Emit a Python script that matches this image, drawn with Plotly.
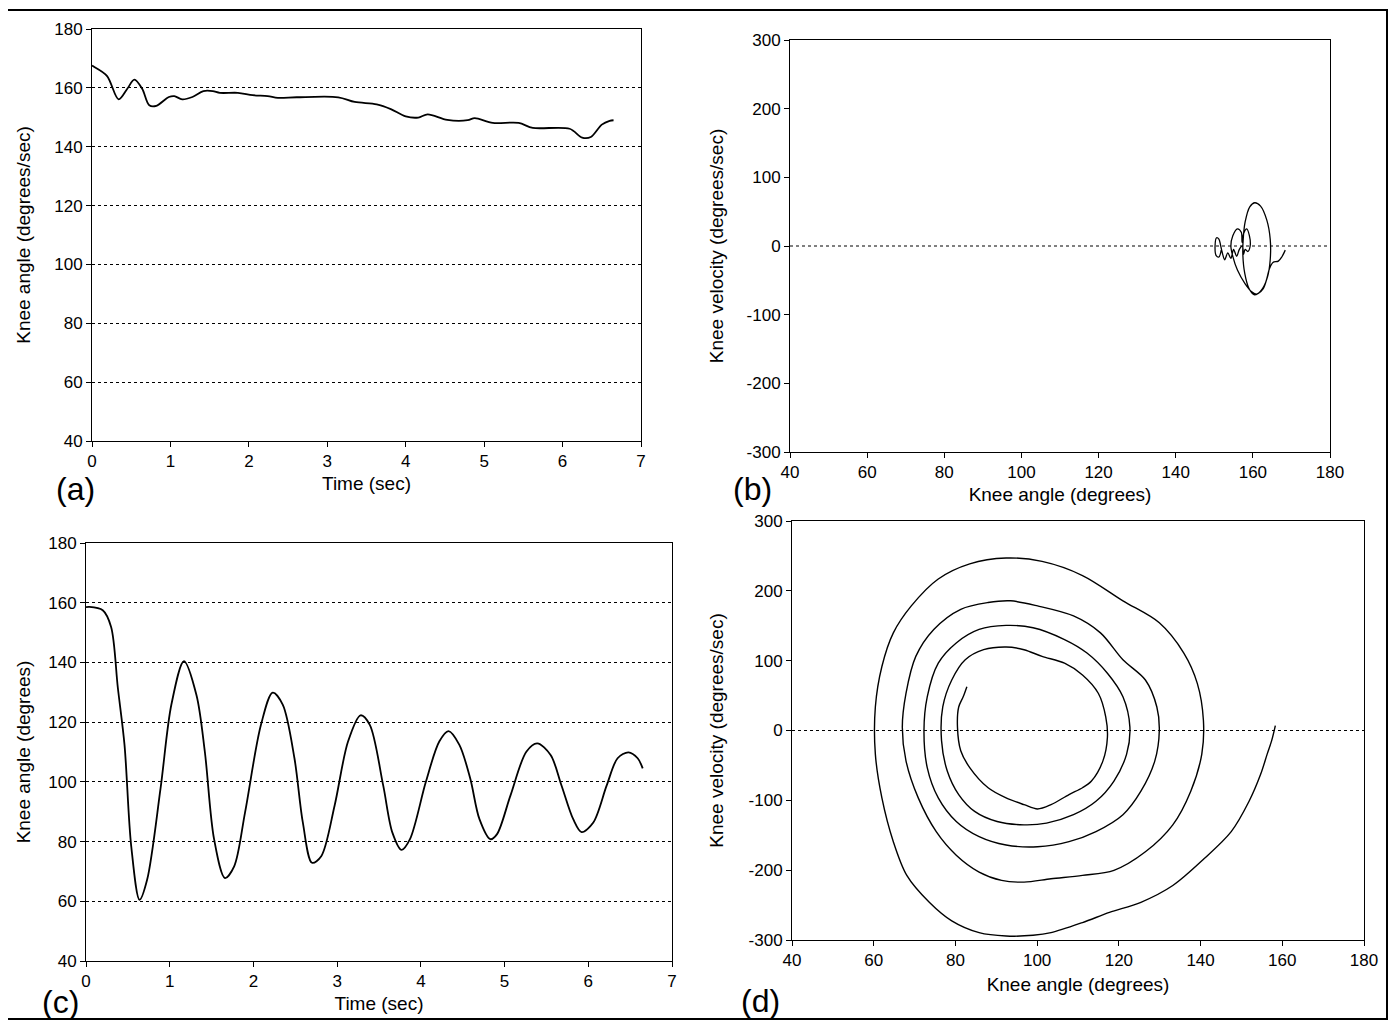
import plotly.graph_objects as go
from plotly.subplots import make_subplots

# --- (a) knee angle vs time, first trial ---
time_a = [0.0, 0.01, 0.19, 0.34, 0.45, 0.54, 0.64, 0.73, 0.82, 0.98, 1.05, 1.15, 1.28, 1.42,
          1.54, 1.63, 1.86, 2.05, 2.24, 2.37, 2.61, 3.14, 3.35, 3.63, 3.81, 4.0, 4.16, 4.28,
          4.53, 4.79, 4.88, 5.11, 5.44, 5.62, 6.09, 6.25, 6.36, 6.5, 6.6, 6.65]
angle_a = [167.6, 167.4, 164.1, 156.1, 159.7, 162.8, 159.7, 154.1, 153.9, 156.9, 157.2, 156.1,
           156.9, 158.9, 158.9, 158.3, 158.3, 157.5, 157.2, 156.6, 156.8, 156.8, 155.2, 154.4,
           152.8, 150.3, 149.9, 151.0, 149.1, 149.0, 149.7, 148.1, 148.1, 146.4, 146.1, 143.1,
           143.3, 147.5, 148.8, 149.0]

# --- (b) phase plane of first trial ---
angle_b = [168.4, 167.5, 166.6, 165.2, 164.3, 163.6, 162.7, 161.4, 160.3, 159.0, 157.9, 157.4,
           157.5, 158.0, 159.2, 160.5, 162.0, 163.6, 164.5, 164.5, 163.8, 162.5, 161.0, 159.8,
           158.0, 156.0, 154.8, 154.3, 154.8, 156.0, 157.0, 157.2, 157.6, 158.4, 159.1, 159.3,
           158.7, 158.0, 157.6, 157.3, 156.5, 155.8, 155.0, 154.3, 153.5, 152.7, 152.0, 151.6,
           151.2, 150.6, 150.2, 150.5, 151.2, 151.8]
vel_b = [-6, -16, -22, -24, -33, -48, -62, -69, -71, -62, -40, -12,
         10, 35, 57, 63, 58, 38, 10, -20, -45, -62, -70, -67,
         -55, -35, -15, 0, 15, 25, 20, 5, 18, 25, 15, 0,
         -8, -5, -12, 0, -5, -15, -5, -18, -10, -20, -8, 2,
         10, 12, 0, -14, -16, -6]

# --- (c) knee angle vs time, second trial ---
time_c = [0.0, 0.04, 0.2, 0.3, 0.38, 0.46, 0.54, 0.64, 0.73, 0.89, 1.02, 1.17, 1.32, 1.42,
          1.53, 1.66, 1.77, 1.9, 2.09, 2.23, 2.35, 2.49, 2.59, 2.7, 2.81, 2.97, 3.13, 3.28,
          3.39, 3.55, 3.66, 3.77, 3.87, 4.06, 4.22, 4.33, 4.46, 4.59, 4.7, 4.83, 4.91, 5.07,
          5.26, 5.39, 5.55, 5.68, 5.82, 5.92, 6.06, 6.22, 6.35, 6.48, 6.59, 6.65]
angle_c = [158.5, 158.6, 157.5, 151.9, 131.6, 112.4, 78.5, 60.5, 67.2, 97.7, 125.9, 140.4,
           129.0, 110.0, 80.8, 67.8, 71.7, 89.8, 119.1, 129.9, 125.9, 107.9, 86.4, 72.9, 75.1,
           92.1, 113.5, 122.3, 119.1, 98.8, 83.0, 77.2, 80.8, 100.0, 113.5, 117.0, 112.4, 101.1,
           87.5, 80.8, 82.5, 95.4, 110.1, 112.9, 109.0, 98.8, 87.5, 83.2, 86.4, 98.8, 107.9,
           109.9, 107.9, 104.5]

# --- (d) phase plane of second trial ---
angle_d = [158.3, 157.4, 156.3, 154.7, 151.9, 147.5, 140.9, 133.2, 125.4, 117.7, 111.1, 103.4,
           99.0, 92.4, 85.8, 79.1, 73.6, 68.1, 64.8, 62.0, 60.4, 60.4, 62.0, 64.8,
           69.2, 75.8, 83.5, 92.4, 101.2, 111.1, 121.0, 129.9, 135.9, 139.2, 140.7, 140.3,
           137.6, 133.2, 126.5, 118.8, 111.1, 103.4, 96.8, 91.3, 85.8, 80.2, 75.3, 70.9,
           67.9, 67.0, 67.9, 70.3, 74.7, 81.3, 88.0, 93.5, 100.1, 108.9, 115.5, 121.0,
           126.5, 129.3, 129.9, 128.8, 125.4, 121.0, 114.4, 107.8, 100.1, 92.4, 85.8, 80.2,
           75.8, 73.1, 72.3, 73.1, 75.8, 80.2, 85.8, 92.4, 99.0, 106.7, 112.2, 117.2,
           121.0, 122.7, 121.9, 118.8, 114.4, 108.9, 102.3, 96.8, 90.2, 84.7, 80.8, 78.0,
           76.6, 76.9, 79.1, 82.4, 86.9, 92.4, 96.8, 101.2, 106.7, 111.1, 115.0, 116.8,
           117.2, 116.1, 113.3, 111.1, 107.8, 103.4, 100.1, 96.8, 92.4, 88.0, 83.5, 81.3,
           80.5, 80.8, 81.9, 82.8]
vel_d = [7, -14.5, -33.8, -62.8, -101, -144.8, -183.4, -222, -246, -260.5, -275, -289.5,
         -293.3, -294.3, -289.5, -272.6, -246, -207.5, -159.2, -96.5, -33.8, 33.7, 91.6, 139.8,
         178.4, 217, 238.7, 247, 242.1, 221.9, 185.7, 154.3, 110.9, 67.5, 14.4, -33.8,
         -86.9, -135.1, -173.7, -200.2, -207.5, -212.3, -217.1, -214.7, -202.7, -178.5, -144.8, -96.5,
         -43.5, 4.8, 53, 106.1, 144.7, 173.6, 183.3, 185.7, 178.4, 164, 139.8, 101.3,
         72.3, 33.7, 0, -43.5, -86.9, -120.6, -144.8, -159.2, -166.5, -164, -152, -130.3,
         -96.5, -53.1, 0, 48.2, 96.4, 125.4, 144.7, 150.5, 147.1, 130.2, 110.9, 82,
         48.2, 4.8, -33.8, -72.4, -101.4, -120.6, -132.7, -135.1, -130.3, -115.8, -91.7, -57.9,
         -14.5, 33.7, 72.3, 101.3, 115.7, 119.6, 115.7, 106.1, 96.4, 79.5, 53, 19.3,
         -9.6, -43.5, -72.4, -82, -91.7, -106.2, -112.4, -106.2, -96.5, -82, -53.1, -29,
         4.8, 33.7, 48.2, 62.7]

angle_ticks = [40, 60, 80, 100, 120, 140, 160, 180]
time_ticks = [0, 1, 2, 3, 4, 5, 6, 7]
vel_ticks = [-300, -200, -100, 0, 100, 200, 300]
vel_labels = ['-300', '-200', '-100', '0', '100', '200', '300']

FONT = "Liberation Sans"
OFF = 8  # the page body adds an 8px margin around the plot div
W, H = 1397 - OFF, 1024 - OFF


def curve(width):
    return dict(color='black', width=width, shape='spline', smoothing=0.9)


fig = make_subplots(rows=2, cols=2)
fig.add_trace(go.Scatter(x=time_a, y=angle_a, mode='lines', line=curve(1.8)), row=1, col=1)
fig.add_trace(go.Scatter(x=angle_b, y=vel_b, mode='lines', line=curve(1.3)), row=1, col=2)
fig.add_trace(go.Scatter(x=time_c, y=angle_c, mode='lines', line=curve(1.8)), row=2, col=1)
fig.add_trace(go.Scatter(x=angle_d, y=vel_d, mode='lines', line=curve(1.4)), row=2, col=2)

axis_common = dict(showline=True, linecolor='black', linewidth=1, mirror=True, automargin=False,
                   ticks='outside', ticklen=5, tickcolor='black', zeroline=False,
                   tickfont=dict(family=FONT, size=17, color='black'))
grid_on = dict(showgrid=True, gridcolor='black', griddash='dot', gridwidth=1)


def title(text, standoff):
    return dict(text=text, font=dict(family=FONT, size=19, color='black'), standoff=standoff)


def px_x(p):
    return (p - OFF) / W


def px_y(p):
    return 1 - (p - OFF) / H


def dom_x(p0, p1):
    return [px_x(p0), px_x(p1)]


def dom_y(top, bottom):
    return [px_y(bottom), px_y(top)]


fig.update_layout(
    template='none',
    xaxis=dict(domain=dom_x(92, 641), range=[0, 7], tickvals=time_ticks, showgrid=False,
               title=title("Time (sec)", 6), **axis_common),
    yaxis=dict(domain=dom_y(29, 441), range=[40, 180], tickvals=angle_ticks, **grid_on,
               title=title("Knee angle (degrees/sec)", 18), **axis_common),
    xaxis2=dict(domain=dom_x(790, 1330), range=[40, 180], tickvals=angle_ticks, showgrid=False,
                title=title("Knee angle (degrees)", 6), **axis_common),
    yaxis2=dict(domain=dom_y(40, 452), range=[-300, 300], tickvals=vel_ticks, ticktext=vel_labels,
                showgrid=False, title=title("Knee velocity (degrees/sec)", 17), **axis_common),
    xaxis3=dict(domain=dom_x(86, 672), range=[0, 7], tickvals=time_ticks, showgrid=False,
                title=title("Time (sec)", 6), **axis_common),
    yaxis3=dict(domain=dom_y(543, 961), range=[40, 180], tickvals=angle_ticks, **grid_on,
                title=title("Knee angle (degrees)", 12), **axis_common),
    xaxis4=dict(domain=dom_x(792, 1364), range=[40, 180], tickvals=angle_ticks, showgrid=False,
                title=title("Knee angle (degrees)", 8), **axis_common),
    yaxis4=dict(domain=dom_y(521, 940), range=[-300, 300], tickvals=vel_ticks, ticktext=vel_labels,
                showgrid=False, title=title("Knee velocity (degrees/sec)", 19), **axis_common),
    width=W, height=H, margin=dict(l=0, r=0, t=0, b=0, pad=0),
    paper_bgcolor='white', plot_bgcolor='white', showlegend=False,
    font=dict(family=FONT, color='black'),
)

# dotted zero line in the phase plots
for r in (1, 2):
    fig.add_hline(y=0, line=dict(color='black', width=1, dash='dot'), row=r, col=2)

# panel letters
for txt, px, py in [("(a)", 75, 489), ("(b)", 752, 489), ("(c)", 60, 1002), ("(d)", 760, 1001)]:
    fig.add_annotation(text=txt, x=px_x(px), y=px_y(py), xref='paper', yref='paper',
                       xanchor='center', yanchor='middle', showarrow=False,
                       font=dict(family=FONT, size=32, color='black'))

# outer frame
fig.add_shape(type='rect', xref='paper', yref='paper', x0=px_x(7), x1=px_x(1387),
              y0=px_y(1019), y1=px_y(10), line=dict(color='black', width=2))

fig.write_html("out.html")
